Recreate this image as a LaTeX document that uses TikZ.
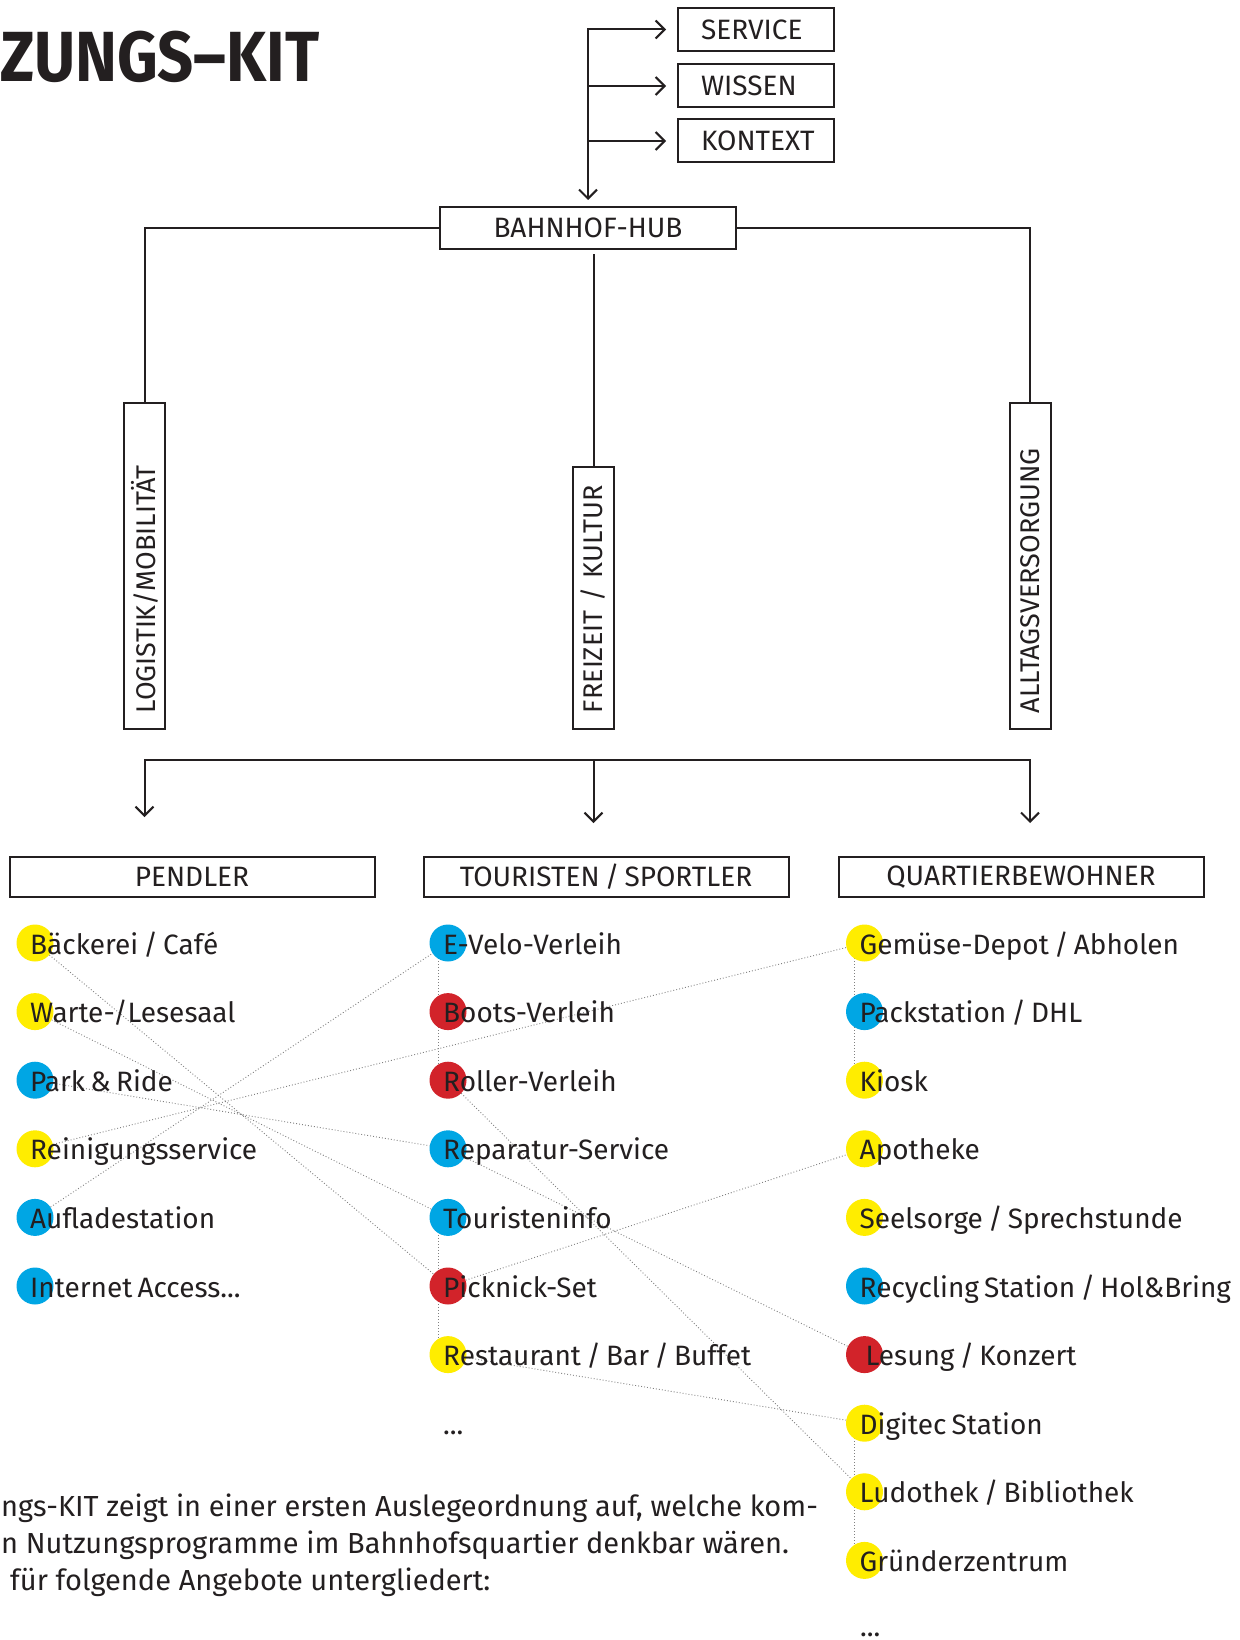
\documentclass[tikz,border=0pt]{standalone}
\usepackage{fontspec}
\setmainfont{Fira Sans}[WordSpace=0.7]
\newfontfamily\bodyfont{Fira Sans}
\newfontfamily\titlefont[FakeStretch=0.89]{Fira Sans}
\usetikzlibrary{arrows.meta,positioning,backgrounds}
\definecolor{ink}{HTML}{231F20}
\definecolor{gelb}{HTML}{FFED00}
\definecolor{blau}{HTML}{00A6E4}
\definecolor{rot}{HTML}{D2232A}
\definecolor{faden}{HTML}{808080}
\tikzset{
	% Boxes -----------------------------------------------------
	box/.style={draw=ink, line width=2pt, text=ink, inner sep=0pt, font=\fontsize{28}{30}\selectfont},
	sidebox/.style={box, anchor=west, minimum height=43pt, text width=110pt, inner xsep=23pt, align=left},
	hubbox/.style={box, minimum width=296pt, minimum height=42pt},
	pillar/.style={box, rotate=90, minimum height=41pt, inner xsep=16pt, text width=#1, align=left, font=\fontsize{27}{29}\selectfont},
	groupbox/.style={box, minimum width=365pt, minimum height=40pt},
	% Lines -----------------------------------------------------
	wire/.style={draw=ink, line width=2pt, line cap=rect},
	arrowline/.style={wire, -{Straight Barb[length=9pt, width=18pt]}},
	thread/.style={draw=faden, line width=0.9pt, dash pattern=on 0.9pt off 2.1pt},
	% Offers ----------------------------------------------------
	dot/.style={circle, fill=#1, minimum size=37pt, inner sep=0pt},
	offer/.style={anchor=base west, inner sep=0pt, text=ink, font=\fontsize{28}{30}\selectfont},
	bodytext/.style={offer, font=\bodyfont\fontsize{29}{32}\selectfont},
}
\begin{document}
\begin{tikzpicture}[x=1pt, y=-1pt]
	\useasboundingbox (0,0) rectangle (1239,1640);
	\node[anchor=base west, inner sep=0pt, text=ink, font=\titlefont\bfseries\fontsize{71}{71}\selectfont] (title) at (0,82) {ZUNGS–KIT};
	\node[sidebox] (service) at (677,29.5) {SERVICE};
	\node[sidebox] (wissen) at (677,86) {WISSEN};
	\node[sidebox] (kontext) at (677,141) {KONTEXT};
	\node[hubbox] (hub) at (588,228) {BAHNHOF-HUB};
	\node[pillar=294pt] (logistik) at (144.5,566) {LOGISTIK/MOBILITÄT};
	\node[pillar=230pt] (freizeit) at (593.5,598) {\mbox{FREIZEIT / KULTUR}};
	\node[pillar=294pt] (alltag) at (1030,566) {ALLTAGSVERSORGUNG};
	\node[groupbox] (pendler) at (192,877) {PENDLER};
	\node[groupbox] (touristen) at (606,877) {TOURISTEN / SPORTLER};
	\node[groupbox] (quartier) at (1021,877) {QUARTIERBEWOHNER};
	\coordinate (spine) at (hub.north |- service.west);
	\draw[arrowline, shorten >=11pt] (spine) -- (service.west);
	\draw[arrowline, shorten >=11pt] (spine |- wissen.west) -- (wissen.west);
	\draw[arrowline, shorten >=11pt] (spine |- kontext.west) -- (kontext.west);
	\draw[arrowline, shorten >=6pt] (spine) -- (hub.north);
	\draw[wire] (hub.west) -| (logistik.east);
	\draw[wire] (hub.east) -| (alltag.east);
	\draw[wire, shorten >=5pt] (freizeit.east) -- (freizeit.east |- hub.south);
	\coordinate (busL) at (logistik.center |- 0,760);
	\coordinate (busM) at (freizeit.center |- 0,760);
	\coordinate (busR) at (alltag.center |- 0,760);
	\coordinate (tipL) at (busL |- 0,817);
	\coordinate (tipM) at (busM |- 0,823);
	\coordinate (tipR) at (busR |- 0,823);
	\draw[wire] (busL) -- (busR);
	\foreach \s in {L,M,R}
		\draw[arrowline] (bus\s) -- (tip\s);
	\foreach \i/\c/\t in {1/gelb/{Bäckerei / Café}, 2/gelb/{Warte-/Lesesaal}, 3/blau/{Park \& Ride}, 4/gelb/{Reinigungsservice}, 5/blau/{Aufladestation}, 6/blau/{Internet Access...}}{
		\node[dot=\c] (p\i) at (35,{943+68.6*(\i-1)}) {};
		\node[offer] (pl\i) at ([xshift=-5pt,yshift=-11pt]p\i.center) {\t};
	}
	\foreach \i/\c/\t in {1/blau/{E-Velo-Verleih}, 2/rot/{Boots-Verleih}, 3/rot/{Roller-Verleih}, 4/blau/{Reparatur-Service}, 5/blau/{Touristeninfo}, 6/rot/{Picknick-Set}, 7/gelb/{Restaurant / Bar / Buffet}}{
		\node[dot=\c] (t\i) at (448,{943+68.6*(\i-1)}) {};
		\node[offer] (tl\i) at ([xshift=-5pt,yshift=-11pt]t\i.center) {\t};
	}
	\foreach \i/\c/\t in {1/gelb/{Gemüse-Depot / Abholen}, 2/blau/{Packstation / DHL}, 3/gelb/{Kiosk}, 4/gelb/{Apotheke}, 5/gelb/{Seelsorge / Sprechstunde}, 6/blau/{Recycling Station / Hol\&Bring}, 7/rot/{\hspace*{6pt}Lesung / Konzert}, 8/gelb/{Digitec Station}, 9/gelb/{Ludothek / Bibliothek}, 10/gelb/{Gründerzentrum}}{
		\node[dot=\c] (q\i) at (864.5,{943+68.6*(\i-1)}) {};
		\node[offer] (ql\i) at ([xshift=-5pt,yshift=-11pt]q\i.center) {\t};
	}
	\node[offer] (tmore) at (443,1434) {...};
	\node[offer] (qmore) at (860,1636) {...};
	\node[bodytext] (body1) at (1,1516) {ngs-KIT zeigt in einer ersten Auslegeordnung auf, welche kom-};
	\node[bodytext] (body2) at (1,1553) {n Nutzungsprogramme im Bahnhofsquartier denkbar wären.};
	\node[bodytext] (body3) at (10,1590) {für folgende Angebote untergliedert:};
	\begin{scope}[on background layer]
		\fill[white] (0,0) rectangle (1239,1640);
		\foreach \a/\b in {p1/t6,p2/t5,p3/t4,p4/q1,p5/t1,t3/q9,t4/q7,t6/q4,t7/q8}
			\draw[thread] (\a) -- (\b);
		\foreach \a/\b in {t1/t3,t5/t7,q1/q3,q8/q10}
			\draw[thread] ([xshift=-10pt]\a.center) -- ([xshift=-10pt]\b.center);
	\end{scope}
\end{tikzpicture}
\end{document}
